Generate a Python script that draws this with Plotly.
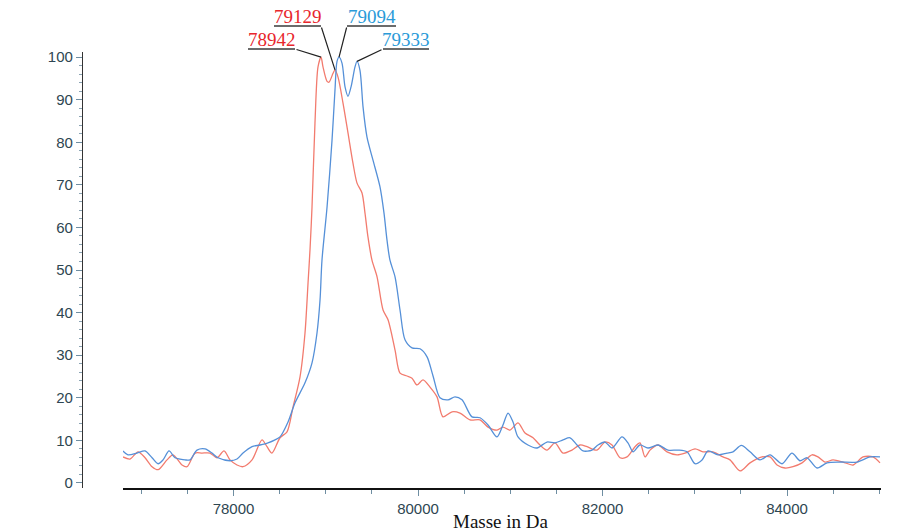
import plotly.graph_objects as go

# ---------------- data ----------------
blue_x = [76802, 76856, 76954, 77041, 77117, 77182, 77236, 77301, 77366, 77420, 77474, 77528,
          77604, 77691, 77767, 77832, 77962, 78038, 78103, 78201, 78287, 78374, 78450, 78504,
          78591, 78667, 78775, 78851, 78905, 78938, 78959, 79014, 79068, 79100, 79122, 79144,
          79176, 79209, 79241, 79274, 79317, 79339, 79371, 79404, 79447, 79512, 79588, 79631,
          79664, 79696, 79751, 79805, 79859, 79935, 80022, 80098, 80163, 80238, 80325, 80401,
          80477, 80585, 80672, 80759, 80856, 80921, 80976, 81030, 81084, 81192, 81290, 81398,
          81485, 81572, 81648, 81724, 81789, 81886, 81951, 82027, 82103, 82211, 82276, 82331,
          82406, 82493, 82602, 82710, 82818, 82916, 83003, 83079, 83144, 83252, 83350, 83415,
          83505, 83599, 83707, 83816, 83946, 84054, 84141, 84217, 84325, 84434, 84574, 84759,
          84900, 85008]
blue_y = [7.5, 6.6, 7.0, 7.5, 5.9, 4.5, 5.4, 7.5, 5.9, 5.6, 5.4, 5.4,
          7.7, 8.0, 7.0, 5.9, 5.2, 5.6, 7.0, 8.5, 8.9, 9.4, 10.1, 10.8,
          14.3, 18.8, 23.5, 28.2, 35.2, 43.0, 52.3, 64.8, 80.5, 92.3, 99.0, 100.0,
          98.6, 93.0, 90.8, 93.0, 97.7, 99.0, 96.9, 88.3, 81.2, 75.8, 69.5, 63.4,
          57.0, 52.3, 48.4, 40.6, 33.6, 31.7, 31.5, 29.6, 25.1, 20.0, 19.5, 20.2,
          19.5, 15.5, 15.3, 13.6, 10.8, 13.6, 16.4, 14.3, 10.8, 8.9, 8.2, 9.6,
          9.4, 10.1, 10.6, 8.9, 7.5, 7.7, 8.9, 9.6, 8.2, 10.8, 9.4, 7.3,
          8.9, 8.2, 8.9, 7.7, 7.7, 7.3, 4.5, 5.4, 7.5, 6.6, 7.0, 7.3,
          8.8, 7.3, 5.4, 6.6, 4.5, 7.0, 5.2, 5.9, 3.5, 4.7, 4.9, 4.9,
          6.1, 6.1]

red_x = [76802, 76878, 76965, 77041, 77117, 77182, 77279, 77344, 77442, 77496, 77583, 77659,
         77745, 77821, 77897, 77962, 78038, 78103, 78201, 78309, 78363, 78417, 78504, 78580,
         78645, 78721, 78775, 78808, 78829, 78851, 78883, 78916, 78949, 78970, 79014, 79035,
         79079, 79100, 79133, 79187, 79241, 79295, 79339, 79393, 79425, 79458, 79501, 79556,
         79621, 79675, 79751, 79805, 79881, 79935, 79989, 80054, 80130, 80206, 80271, 80369,
         80455, 80564, 80672, 80759, 80856, 80921, 80997, 81084, 81160, 81247, 81322, 81398,
         81485, 81572, 81669, 81756, 81832, 81940, 82027, 82103, 82190, 82266, 82352, 82406,
         82461, 82515, 82602, 82699, 82808, 82894, 83003, 83089, 83198, 83306, 83382, 83491,
         83599, 83729, 83816, 83892, 83978, 84065, 84163, 84271, 84336, 84412, 84499, 84607,
         84716, 84824, 84932, 85008]
red_y = [6.1, 5.6, 7.3, 5.9, 3.8, 3.1, 5.4, 6.6, 4.2, 3.8, 7.0, 7.0,
         7.0, 5.9, 7.5, 5.4, 4.2, 3.8, 5.4, 10.1, 8.5, 7.0, 10.6, 12.0,
         17.8, 24.9, 35.2, 47.0, 54.7, 64.8, 84.5, 97.7, 100.0, 97.7, 94.3, 94.1,
         96.2, 97.0, 95.3, 89.2, 82.2, 75.1, 70.4, 68.1, 63.4, 57.7, 52.3, 48.4,
         40.6, 38.3, 31.2, 25.8, 25.1, 24.6, 23.0, 24.2, 22.5, 20.2, 15.5, 16.7,
         16.4, 14.8, 14.8, 13.1, 12.4, 13.1, 12.4, 14.1, 11.7, 10.6, 8.9, 7.7,
         9.4, 7.0, 7.7, 8.9, 8.5, 7.7, 9.6, 8.9, 5.9, 6.1, 8.5, 9.4,
         6.1, 7.7, 8.9, 7.3, 6.6, 7.0, 8.0, 7.3, 7.3, 6.1, 5.4, 2.8,
         4.7, 6.1, 6.1, 4.2, 3.5, 3.8, 4.7, 6.6, 6.1, 4.9, 5.4, 4.9,
         4.2, 6.1, 6.1, 4.7]

peak_labels = ["78942", "79129", "79094", "79333"]
peak_colors = ["#e8262c", "#e8262c", "#2a9ad8", "#2a9ad8"]
peak_x = [78949, 79100, 79144, 79339]
peak_y = [100.0, 97.0, 100.0, 99.0]

x_ticks = [78000, 80000, 82000, 84000]
y_ticks = [0, 10, 20, 30, 40, 50, 60, 70, 80, 90, 100]

# ---------------- layout constants ----------------
W, H = 901, 532
ML, MR, MT, MB = 82, 20, 52, 44
PX0, PX1 = 123, 881          # x-axis pixel extent
XR = [76802, 85019]
YR = [-1.2, 101.2]
PW = W - ML - MR
PH = H - MT - MB

def paper_x(p):
    return (p - ML) / PW

def paper_y(p):
    return (H - MB - p) / PH

def data_px(x, y):
    px = PX0 + (x - XR[0]) / (XR[1] - XR[0]) * (PX1 - PX0)
    py = MT + (YR[1] - y) / (YR[1] - YR[0]) * PH
    return px, py

# label layout: (text center px, underline y px, underline x0, underline x1, leader tail x)
label_layout = [
    (271.5, 49, 248, 295, 295),
    (297.5, 26, 274, 321, 321),
    (372.0, 26, 347, 396, 347),
    (406.0, 49, 383, 429, 383),
]

fig = go.Figure()
fig.add_trace(go.Scatter(x=red_x, y=red_y, mode="lines",
                         line=dict(color="#f27b6e", width=1.3, shape="spline", smoothing=0.8),
                         showlegend=False, hoverinfo="skip"))
fig.add_trace(go.Scatter(x=blue_x, y=blue_y, mode="lines",
                         line=dict(color="#5590d8", width=1.3, shape="spline", smoothing=0.8),
                         showlegend=False, hoverinfo="skip"))

annotations = []
shapes = []
for lab, col, xv, yv, lay in zip(peak_labels, peak_colors, peak_x, peak_y, label_layout):
    cx, uy, ux0, ux1, tx = lay
    annotations.append(dict(text=lab, xref="paper", yref="paper",
                            x=paper_x(cx), y=paper_y(uy + 2.5),
                            xanchor="center", yanchor="bottom", showarrow=False,
                            font=dict(family="Liberation Serif", size=19, color=col)))
    shapes.append(dict(type="line", xref="paper", yref="paper",
                       x0=paper_x(ux0), x1=paper_x(ux1), y0=paper_y(uy), y1=paper_y(uy),
                       line=dict(color="#3a3a3a", width=1.5)))
    ppx, ppy = data_px(xv, yv)
    annotations.append(dict(text="", x=xv, y=yv, xref="x", yref="y",
                            showarrow=True, arrowhead=0, arrowwidth=1.2, arrowcolor="#222222",
                            ax=tx - ppx, ay=uy - ppy, standoff=0, startstandoff=0,
                            font=dict(size=1)))

annotations.append(dict(text="Masse in Da", xref="paper", yref="paper",
                        x=paper_x(501), y=paper_y(521), xanchor="center", yanchor="middle",
                        showarrow=False,
                        font=dict(family="Liberation Serif", size=19, color="#111111")))

tick_font = dict(family="Liberation Sans", size=15, color="#2e4652")

fig.update_layout(
    width=W, height=H,
    margin=dict(l=ML, r=MR, t=MT, b=MB, pad=0),
    paper_bgcolor="white", plot_bgcolor="white",
    annotations=annotations, shapes=shapes,
    xaxis=dict(domain=[paper_x(PX0), 1], range=XR, showgrid=False, zeroline=False,
               showline=True, linecolor="#111111", linewidth=1.5,
               tickmode="array", tickvals=x_ticks, ticktext=[str(v) for v in x_ticks],
               ticks="outside", ticklen=6, tickwidth=1, tickcolor="#6f8ea2",
               tickfont=tick_font,
               minor=dict(dtick=500, tick0=0, ticks="outside", ticklen=4, tickcolor="#6f8ea2")),
    yaxis=dict(domain=[0, 1], range=YR, anchor="free", position=0,
               showgrid=False, zeroline=False,
               showline=True, linecolor="#333333", linewidth=1.3,
               tickmode="array", tickvals=y_ticks, ticktext=[str(v) for v in y_ticks],
               ticks="outside", ticklen=6, tickwidth=1, tickcolor="#6f8ea2",
               tickfont=tick_font,
               minor=dict(dtick=2, tick0=0, ticks="outside", ticklen=3, tickcolor="#8aa3b3")),
)

fig.write_html("out.html")
